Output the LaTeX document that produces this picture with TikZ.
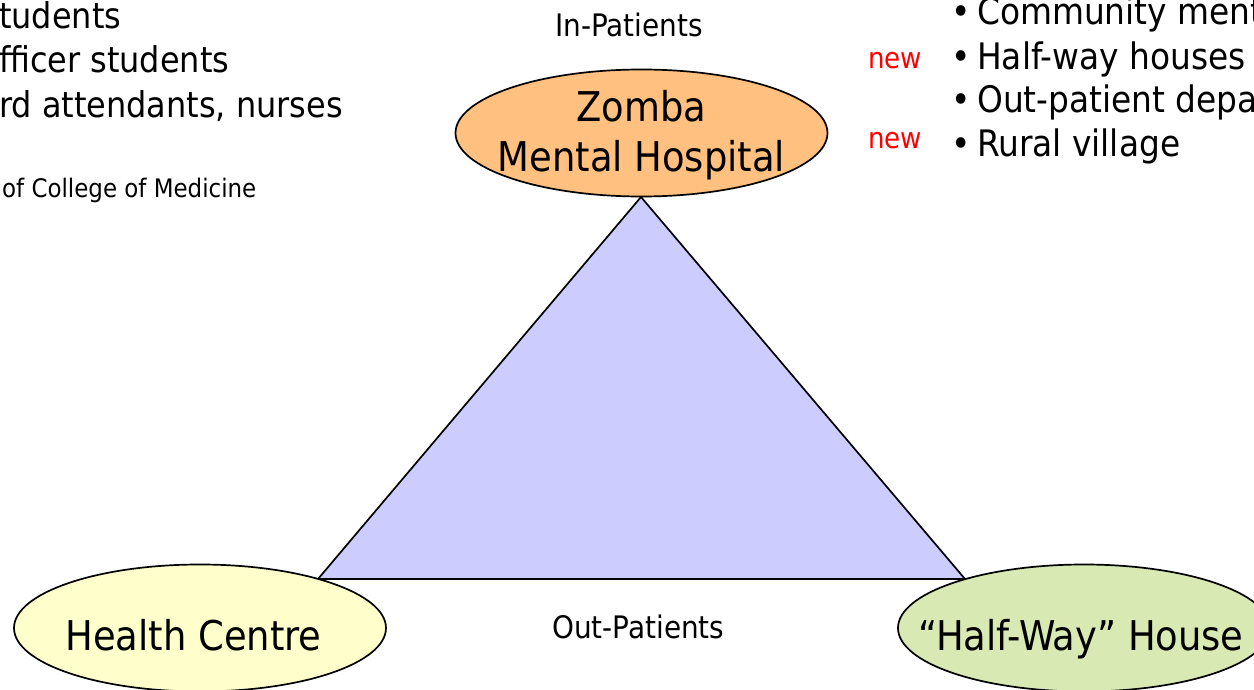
\documentclass[tikz,border=0pt]{standalone}
\usepackage{fontspec}
\setmainfont{DejaVu Sans Condensed}
\usetikzlibrary{shapes.geometric}
\definecolor{trifill}{RGB}{204,204,255}
\definecolor{zombafill}{RGB}{255,192,128}
\definecolor{hcfill}{RGB}{255,255,204}
\definecolor{hwfill}{RGB}{216,233,180}
\begin{document}
\begin{tikzpicture}[x=1pt,y=-1pt,
  oval/.style={ellipse, draw=black, line width=1.7pt, inner sep=0pt,
    minimum width=372pt, minimum height=127pt},
  ovaltxt/.style={font=\fontsize{41}{50}\selectfont, inner sep=0pt, anchor=base},
  lbl/.style={font=\fontsize{31}{36}\selectfont, inner sep=0pt, anchor=base west},
  lefttxt/.style={font=\fontsize{35.5}{44}\selectfont, inner sep=0pt, anchor=base west},
  listtxt/.style={font=\fontsize{36.5}{44}\selectfont, inner sep=0pt, anchor=base west},
  smalltxt/.style={font=\fontsize{25.5}{30}\selectfont, inner sep=0pt, anchor=base west},
  newtxt/.style={font=\fontsize{29}{34}\selectfont, inner sep=0pt, anchor=base west, text=red}]
\useasboundingbox (0,0) rectangle (1254,690);
\clip (0,0) rectangle (1254,690);
% triangle
\coordinate (apex) at (641,197);
\coordinate (bl) at (318,579);
\coordinate (br) at (965,579);
\filldraw[fill=trifill, line width=1.7pt, line join=miter] (apex) -- (bl) -- (br) -- cycle;
% ellipses
\node[oval, fill=zombafill] (zmh) at (641.5,133) {};
\node[oval, fill=hcfill] (hc) at (200,628) {};
\node[oval, fill=hwfill] (hw) at (1084,628) {};
\node[ovaltxt] (zmh1) at (641.5,122) {Zomba};
\node[ovaltxt] (zmh2) at (641.5,172) {Mental Hospital};
\node[ovaltxt] (hct) at (193.5,650) {Health Centre};
\node[ovaltxt, anchor=base west] (hwt) at (918,650) {“Half-Way” House};
% labels
\node[lbl] (inp) at (555,37) {In-Patients};
\node[lbl] (outp) at (552,638) {Out-Patients};
% left list (cut by the frame)
\node[lefttxt] (l1) at (-1,29) {tudents};
\node[lefttxt] (l2) at (-1,73) {fficer students};
\node[lefttxt] (l3) at (-1,118) {rd attendants, nurses};
\node[smalltxt] (l4) at (2,197) {of College of Medicine};
% right list (cut by the frame)
\node[listtxt] (b1) at (951,25) {•};
\node[listtxt] (r1) at (977,25) {Community ment};
\node[listtxt] (b2) at (951,70) {•};
\node[listtxt] (r2) at (977,70) {Half-way houses};
\node[listtxt] (b3) at (951,113) {•};
\node[listtxt] (r3) at (977,113) {Out-patient depa};
\node[listtxt] (b4) at (951,157) {•};
\node[listtxt] (r4) at (977,157) {Rural village};
\node[newtxt] (n1) at (868,69) {new};
\node[newtxt] (n2) at (868,149) {new};
\end{tikzpicture}
\end{document}
